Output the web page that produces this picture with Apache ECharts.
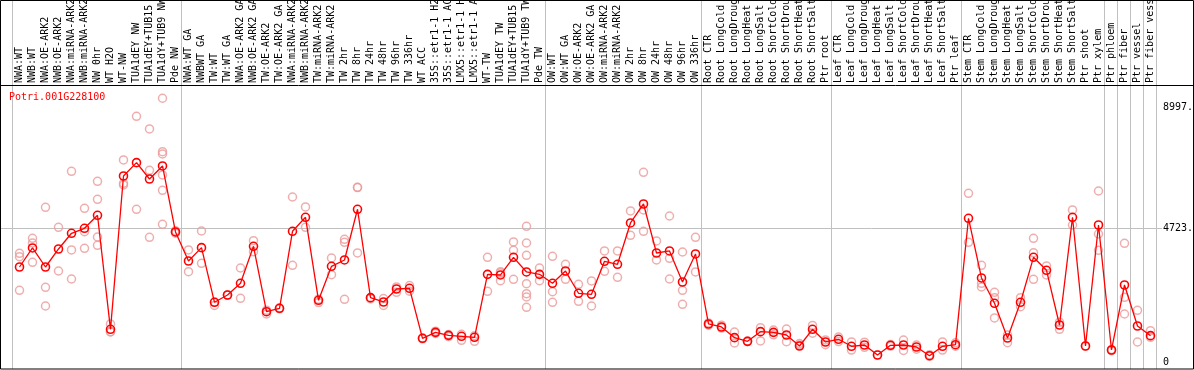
<!DOCTYPE html>
<html>
<head>
<meta charset="utf-8">
<script src="https://cdn.jsdelivr.net/npm/echarts@6/dist/echarts.min.js"></script>
<style>
html,body{margin:0;padding:0;background:#fff;}
#chart{width:1194px;height:370px;}
</style>
</head>
<body>
<div id="chart"></div>
<script>
const geneName = 'Potri.001G228100';

const categories = [
 'NWA:WT','NWB:WT','NWA:OE-ARK2','NWB:OE-ARK2','NWA:miRNA-ARK2','NWB:miRNA-ARK2','NW 0hr','WT H2O','WT-NW',
 'TUA1dEY NW','TUA1dEY+TUB15 NW','TUA1dY+TUB9 NW','Pde NW',
 'NWA:WT GA','NWBWT GA','TW:WT','TW:WT GA','NWA:OE-ARK2 GA','NWB:OE-ARK2 GA','TW:OE-ARK2','TW:OE-ARK2 GA',
 'NWA:miRNA-ARK2','NWB:miRNA-ARK2','TW:miRNA-ARK2','TW:miRNA-ARK2','TW 2hr','TW 8hr','TW 24hr','TW 48hr','TW 96hr','TW 336hr',
 'WT ACC','35S::etr1-1 H2O','35S::etr1-1 ACC','LMX5::etr1-1 H2O','LMX5::etr1-1 ACC','WT-TW','TUA1dEY TW','TUA1dEY+TUB15 TW','TUA1dY+TUB9 TW','Pde TW',
 'OW:WT','OW:WT GA','OW:OE-ARK2','OW:OE-ARK2 GA','OW:miRNA-ARK2','OW:miRNA-ARK2','OW 2hr','OW 8hr','OW 24hr','OW 48hr','OW 96hr','OW 336hr',
 'Root CTR','Root LongCold','Root LongDrought','Root LongHeat','Root LongSalt','Root ShortCold','Root ShortDrought','Root ShortHeat','Root ShortSalt','Ptr root',
 'Leaf CTR','Leaf LongCold','Leaf LongDrought','Leaf LongHeat','Leaf LongSalt','Leaf ShortCold','Leaf ShortDrought','Leaf ShortHeat','Leaf ShortSalt','Ptr leaf',
 'Stem CTR','Stem LongCold','Stem LongDrought','Stem LongHeat','Stem LongSalt','Stem ShortCold','Stem ShortDrought','Stem ShortHeat','Stem ShortSalt','Ptr shoot','Ptr xylem',
 'Ptr phloem','Ptr fiber','Ptr vessel','Ptr fiber vessel'
];

const means = [
 3356,4028,3356,3992,4547,4723,5183,1155,6571,7042,6465,6925,4593,
 3568,4039,2109,2367,2780,4087,1777,1897,4617,5112,2179,3380,3604,5395,2273,2120,2579,2603,
 837,1048,942,907,872,3097,3074,3698,3180,3097,
 2780,3215,2427,2392,3558,3452,4911,5582,3851,3922,2826,3816,
 1343,1237,860,730,1072,1048,954,565,1155,707,
 802,555,601,247,590,601,530,223,555,612,
 5077,2968,2073,848,2109,3698,3239,1307,5112,565,4840,
 424,2720,1272,930
];

const replicates = [
 [3840,3721,2533],[4370,4204,3522],[5465,2639,1978],[4759,3215],[6737,3957,2932],[5430,4604,4017],
 [6384,5748,4416,4123],[1343,1071,1060],[7137,6313,6253],[8680,5395],[8232,6772,4405],
 [9317,7430,7349,6607,6066,4865],[4593,4550,4640],
 [3957,3190],[4628,3487],[2120,2000],[2367,2360],[3321,2250],[4286,3897],[1700,1830],[1910,1880],
 [5829,3416],[5476,4759],[2220,2100],[3674,3085],[4335,4229,2215],[6172,6160,3851],[2250,2230],[2240,2000],
 [2650,2460],[2700,2500],
 [820,850],[1090,1010],[970,900],[978,766],[925,730],[3698,2497],[3191,2873,3150],[4240,3945,2921],
 [4794,4204,3769,2766,2413,2296,1932],[3321,2873],
 [3734,2484,2109],[3452,2922],[2745,2144],[2862,1978],[3922,3204],[3922,2992],[5335,4475],[6702,5370,4617],
 [4275,3604],[5158,3663,2932],[3886,2533,2039],[4406,3180],
 [1300,1380],[1300,1200],[1060,671],[740,720],[1213,745],[960,1130],[1166,718],[650,600],[1290,1020],[610,780],
 [880,720],[710,420],[700,520],[247],[620,560],[777,410],[600,450],[260,200],[710,420],[680,560],
 [5960,4229],[3416,2780,2650],[2462,2273,1555],[954,683],[2273,1955],[4370,3863,2921],[3392,3074],[1405,1155],
 [5370,4840],[565],[6041,4522,3945],
 [400,440],[4194,2286,1696],[1825,707],[1107,872]
];

// first category index of each sample group (last entry = end of the last group)
const groupStarts = [0,13,41,53,63,73,84,85,86,87,88];

// y tick labels shown on the right
const yTicks = [0, 4723, 8997];
const yMid = 4723;
const yAxisTop = 9785; // value at the top edge of the plot frame

const scatterData = [];
replicates.forEach((reps, i) => reps.forEach(v => scatterData.push([i, v])));

const mono = 'DejaVu Sans Mono';
const chart = echarts.init(document.getElementById('chart'));

chart.setOption({
  animation: false,
  backgroundColor: '#ffffff',
  title: {
    text: geneName, left: 9, top: 92, padding: 0,
    textStyle: {fontFamily: mono, fontSize: 10, fontWeight: 'normal', color: '#ff0000'}
  },
  grid: {left: 13, right: 37, top: 85, bottom: 8, containLabel: false, outerBoundsMode: 'none'},
  xAxis: {
    type: 'category', data: categories, position: 'top',
    boundaryGap: true,
    axisLine: {show: false}, axisTick: {show: false}, splitLine: {show: false},
    axisLabel: {interval: 0, rotate: 90, margin: 2, fontFamily: mono, fontSize: 10, color: '#000'}
  },
  yAxis: {
    type: 'value', position: 'right', min: 0, max: yAxisTop,
    axisLine: {show: false}, axisTick: {show: false}, splitLine: {show: false},
    axisLabel: {
      customValues: yTicks, margin: 6, fontFamily: mono, fontSize: 10, color: '#000',
      formatter: v => v === 0 ? '0' : v + '.'
    }
  },
  series: [
    {
      type: 'scatter', data: scatterData, symbol: 'circle', symbolSize: 8, clip: false, z: 2,
      itemStyle: {color: 'rgba(0,0,0,0)', borderColor: '#eb9a9a', borderWidth: 1.5}
    },
    {
      type: 'line', data: means, symbol: 'circle', symbolSize: 8, showAllSymbol: true, clip: false, z: 3,
      lineStyle: {color: '#ff0000', width: 1.3},
      itemStyle: {color: 'rgba(0,0,0,0)', borderColor: '#ff0000', borderWidth: 1.6}
    }
  ]
});

// separators and frame computed from the axes
const c0 = chart.convertToPixel({xAxisIndex: 0}, 0);
const c1 = chart.convertToPixel({xAxisIndex: 0}, 1);
const band = c1 - c0;
const yMidPx = Math.round(chart.convertToPixel({yAxisIndex: 0}, yMid)) + 0.5;
const graphics = [];
groupStarts.forEach(i => {
  const x = Math.round(c0 + i * band - band / 2 - 1.5) + 0.5;
  graphics.push({type: 'line', z: -1, shape: {x1: x, y1: 0, x2: x, y2: 369}, style: {stroke: '#c0c0c0', lineWidth: 1}});
});
graphics.push({type: 'line', z: -1, shape: {x1: 0, y1: yMidPx, x2: 1162, y2: yMidPx}, style: {stroke: '#c0c0c0', lineWidth: 1}});
graphics.push({type: 'rect', z: 10, shape: {x: 0.5, y: 0.5, width: 1193, height: 368.5}, style: {fill: null, stroke: '#000', lineWidth: 1}});
graphics.push({type: 'line', z: 10, shape: {x1: 0, y1: 85.5, x2: 1194, y2: 85.5}, style: {stroke: '#000', lineWidth: 1}});
chart.setOption({graphic: graphics});
</script>
</body>
</html>
